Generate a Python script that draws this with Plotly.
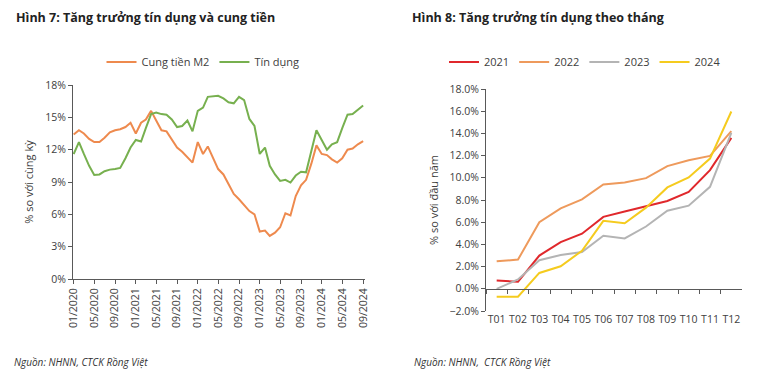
import pandas as pd
import plotly.graph_objects as go

# ---------------- Data ----------------
months = pd.date_range("2020-01-01", periods=57, freq="MS")

m2_supply = [13.4, 13.8, 13.5, 13.0, 12.7, 12.7, 13.1, 13.6, 13.8, 13.9,
             14.1, 14.5, 13.5, 14.5, 14.8, 15.6, 14.7, 13.8, 13.7, 12.9,
             12.2, 11.8, 11.3, 10.8, 12.7, 11.6, 12.3, 11.2, 10.2, 9.7,
             8.8, 7.9, 7.4, 6.9, 6.3, 6.0, 4.4, 4.5, 4.0, 4.3,
             4.8, 6.1, 5.9, 7.7, 8.7, 9.2, 10.7, 12.4, 11.6, 11.5,
             11.1, 10.8, 11.2, 12.0, 12.1, 12.5, 12.8]

credit = [11.6, 12.7, 11.6, 10.5, 9.65, 9.7, 10.0, 10.15, 10.2, 10.3,
          11.2, 12.2, 12.9, 12.75, 14.0, 15.3, 15.45, 15.3, 15.25, 14.8,
          14.1, 14.2, 14.7, 13.7, 15.6, 15.9, 16.9, 16.95, 17.0, 16.75,
          16.4, 16.3, 16.9, 16.6, 14.85, 14.2, 11.6, 12.2, 10.5, 9.7,
          9.1, 9.2, 8.95, 9.6, 9.95, 9.9, 11.9, 13.8, 12.9, 12.0,
          12.5, 12.7, 14.0, 15.25, 15.3, 15.7, 16.1]

month_labels = ["T01", "T02", "T03", "T04", "T05", "T06",
                "T07", "T08", "T09", "T10", "T11", "T12"]
ytd_2021 = [0.75, 0.63, 2.99, 4.2, 4.96, 6.48, 6.96, 7.43, 7.91, 8.72, 10.69, 13.6]
ytd_2022 = [2.48, 2.63, 6.0, 7.25, 8.06, 9.4, 9.58, 9.97, 11.05, 11.58, 11.97, 14.2]
ytd_2023 = [0.0, 0.84, 2.57, 3.04, 3.31, 4.78, 4.54, 5.61, 7.04, 7.49, 9.19, 14.05]
ytd_2024 = [-0.72, -0.72, 1.43, 2.03, 3.43, 6.12, 5.91, 7.31, 9.13, 10.03, 11.73, 15.97]

left_ytick_step = 3
right_ytick_step = 2

# ---------------- Style ----------------
FONT = "Open Sans"
TXT = "#404040"
AX = "#595959"
W, H = 773, 386

fig = go.Figure()

fig.add_trace(go.Scatter(x=months, y=m2_supply, name="Cung tiền M2", mode="lines",
                         line=dict(color="#EE8A4E", width=2), xaxis="x", yaxis="y",
                         legend="legend"))
fig.add_trace(go.Scatter(x=months, y=credit, name="Tín dụng", mode="lines",
                         line=dict(color="#77B04F", width=2), xaxis="x", yaxis="y",
                         legend="legend"))

right_series = [("2021", ytd_2021, "#E0282C"), ("2022", ytd_2022, "#EE9A5C"),
                ("2023", ytd_2023, "#B4B4B4"), ("2024", ytd_2024, "#F5CB1E")]
for name, vals, col in right_series:
    fig.add_trace(go.Scatter(x=month_labels, y=vals, name=name, mode="lines",
                             line=dict(color=col, width=2), xaxis="x2", yaxis="y2",
                             legend="legend2"))
# invisible trace to activate the overlay zero-line axis
fig.add_trace(go.Scatter(x=month_labels, y=[None] * 12, xaxis="x3", yaxis="y2",
                         showlegend=False, hoverinfo="skip"))

# domains (paper fractions)
lx = [73 / W, 365 / W]
ly = [1 - 279 / H, 1 - 85 / H]
rx = [486 / W, 742 / W]
ry = [1 - 311 / H, 1 - 89 / H]
r_range = [-2, 18]
zero_pos = ry[0] + (0 - r_range[0]) / (r_range[1] - r_range[0]) * (ry[1] - ry[0])

tickfont = dict(family=FONT, size=10.5, color=TXT)

fig.update_layout(
    width=W, height=H,
    margin=dict(l=0, r=0, t=0, b=0, pad=0, autoexpand=False),
    paper_bgcolor="white", plot_bgcolor="white",
    font=dict(family=FONT, color=TXT),
    xaxis=dict(domain=lx, anchor="y", type="date", automargin=False,
               range=["2019-12-28", "2024-09-12"],
               tickvals=months[::4], tickformat="%m/%Y", tickangle=-90,
               showline=True, linecolor=AX, linewidth=1,
               ticks="outside", ticklen=4, tickcolor=AX,
               showgrid=False, zeroline=False, tickfont=tickfont),
    yaxis=dict(domain=ly, anchor="x", range=[0, 18], automargin=False,
               tickmode="linear", tick0=0, dtick=left_ytick_step,
               ticksuffix="%", showline=True, linecolor=AX, linewidth=1,
               ticks="outside", ticklen=4, tickcolor=AX,
               showgrid=False, zeroline=False, tickfont=tickfont,
               title=dict(text="% so với cùng kỳ", standoff=9,
                          font=dict(family=FONT, size=11, color=TXT))),
    xaxis2=dict(domain=rx, anchor="y2", type="category", automargin=False,
                range=[-0.5, 11.5], showline=False, ticks="",
                showgrid=False, zeroline=False, tickfont=tickfont),
    xaxis3=dict(domain=rx, anchor="free", position=zero_pos, overlaying="x2",
                type="category", categoryarray=month_labels, automargin=False,
                range=[-0.5, 11.5], showline=True, linecolor=AX, linewidth=1,
                ticks="outside", ticklen=4, tickcolor=AX, tickson="boundaries",
                showticklabels=False, showgrid=False, zeroline=False),
    yaxis2=dict(domain=ry, anchor="x2", range=r_range, automargin=False,
                tickmode="linear", tick0=0, dtick=right_ytick_step,
                tickformat=".1f", ticksuffix="%", showline=True, linecolor=AX,
                linewidth=1, ticks="outside", ticklen=4, tickcolor=AX,
                showgrid=False, zeroline=False, tickfont=tickfont,
                title=dict(text="% so với đầu năm", standoff=8,
                           font=dict(family=FONT, size=11, color=TXT))),
    legend=dict(orientation="h", x=203 / W, xanchor="center", y=1 - 62 / H,
                yanchor="middle", font=dict(family=FONT, size=11, color=TXT),
                bgcolor="rgba(0,0,0,0)", itemwidth=30),
    legend2=dict(orientation="h", x=585 / W, xanchor="center", y=1 - 62 / H,
                 yanchor="middle", font=dict(family=FONT, size=11, color=TXT),
                 bgcolor="rgba(0,0,0,0)", itemwidth=30),
    showlegend=True,
    annotations=[
        dict(text="<b>Hình 7: Tăng trưởng tín dụng và cung tiền</b>", x=14 / W, y=1 - 18 / H,
             xref="paper", yref="paper", xanchor="left", yanchor="middle", showarrow=False,
             font=dict(family=FONT, size=12.5, color="#222222")),
        dict(text="<b>Hình 8: Tăng trưởng tín dụng theo tháng</b>", x=410 / W, y=1 - 18 / H,
             xref="paper", yref="paper", xanchor="left", yanchor="middle", showarrow=False,
             font=dict(family=FONT, size=12.5, color="#222222")),
        dict(text="<i>Nguồn: NHNN, CTCK Rồng Việt</i>", x=12 / W, y=1 - 362 / H,
             xref="paper", yref="paper", xanchor="left", yanchor="middle", showarrow=False,
             font=dict(family=FONT, size=10, color="#333333")),
        dict(text="<i>Nguồn: NHNN,  CTCK Rồng Việt</i>", x=412 / W, y=1 - 362 / H,
             xref="paper", yref="paper", xanchor="left", yanchor="middle", showarrow=False,
             font=dict(family=FONT, size=10, color="#333333")),
    ],
)

fig.write_html("out.html", config={"displayModeBar": False})

# remove the browser's default 8px body margin so the figure sits at (0, 0)
with open("out.html", encoding="utf-8") as f:
    page = f.read()
page = page.replace("<head>", "<head><style>html,body{margin:0;padding:0;overflow:hidden;}</style>", 1)
with open("out.html", "w", encoding="utf-8") as f:
    f.write(page)
